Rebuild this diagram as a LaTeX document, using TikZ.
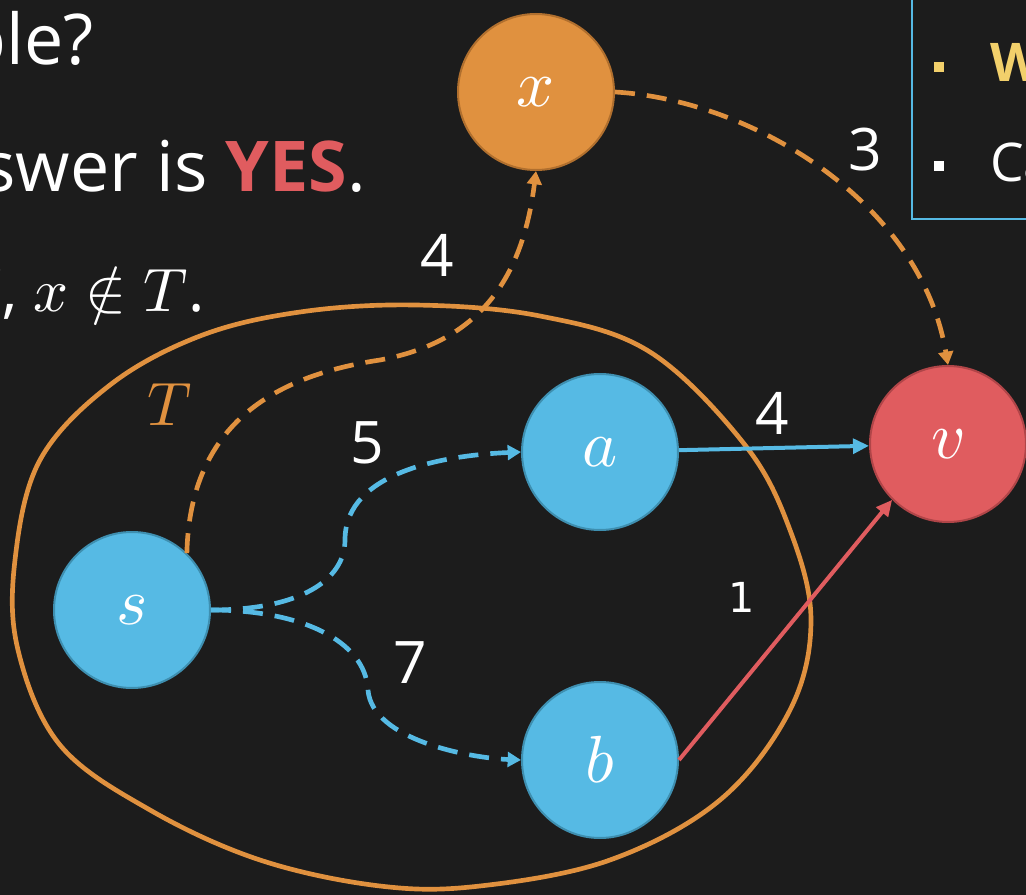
\documentclass[tikz,border=0pt]{standalone}
\usepackage{fontspec}
\usepackage{unicode-math}
\setmainfont{Open Sans}
\setmathfont{Latin Modern Math}
\newfontfamily\dejavu{DejaVu Sans}
\usetikzlibrary{arrows.meta}
\definecolor{bg}{HTML}{1C1C1C}
\definecolor{org}{HTML}{E0913F}
\definecolor{orgd}{HTML}{B06F2E}
\definecolor{blu}{HTML}{56BAE4}
\definecolor{blud}{HTML}{3E8FB0}
\definecolor{rd}{HTML}{E05C5F}
\definecolor{rdd}{HTML}{B04548}
\definecolor{yel}{HTML}{F2D06B}
\tikzset{
  vert/.style={circle, minimum size=117pt, inner sep=0pt, line width=1.5pt, text=white, font=\fontsize{50}{50}\selectfont},
  dedge/.style={line width=3.5pt, dash pattern=on 15pt off 9pt, -{Triangle[length=10pt,width=11pt]}},
  sedge/.style={line width=3pt, -{Triangle[length=12pt,width=11pt]}},
  elab/.style={text=white, font=\fontsize{44}{44}\selectfont, inner sep=0pt},
  bigtxt/.style={text=white, font=\fontsize{52.5}{52.5}\selectfont, inner sep=0pt},
}
\begin{document}
\begin{tikzpicture}[x=0.75pt,y=-0.75pt]
\fill[bg] (0,0) rectangle (1026,895);
\useasboundingbox (0,0) rectangle (1026,895);
% text at left
\node[bigtxt, anchor=base east] (l1) at (94,65) {ble?};
\node[bigtxt, anchor=base east] (l2) at (366,192) {swer is \textbf{\textcolor{rd}{YES}}.};
\node[bigtxt, anchor=base east, font=\fontsize{46}{46}\selectfont] (l3) at (205,312) {$V$, $x \notin T$.};
% top-right box
\draw[blu, line width=1.5pt] (912,-10) rectangle (1040,219);
\fill[yel] (934,62) rectangle (944,72);
\fill[white] (934,161) rectangle (944,171);
\node[anchor=base west, inner sep=0pt, text=yel, font=\fontsize{40}{40}\selectfont\bfseries] (w) at (990,82) {W};
\node[anchor=base west, inner sep=0pt, text=white, font=\fontsize{40}{40}\selectfont] (ca) at (990,182) {Ca};
% set T
\draw[org, line width=3.5pt] plot[smooth cycle, tension=0.6] coordinates {
 (415,305) (540,316) (650,352) (745,445) (790,530) (811,620) (790,710) (720,800) (610,860) (480,886) (380,886) (260,860) (150,810) (60,745) (18,650) (15,560) (40,460) (110,385) (200,336) (300,312)};
\node[text=org, font=\fontsize{46}{46}\selectfont, inner sep=0pt] (T) at (170,405) {$T$};
% vertices
\node[vert, fill=org, draw=orgd] (x) at (536,92) {$x$};
\node[vert, fill=blu, draw=blud] (s) at (132,610) {$s$};
\node[vert, fill=blu, draw=blud] (a) at (600,452) {$a$};
\node[vert, fill=blu, draw=blud] (b) at (600,760) {$b$};
\node[vert, fill=rd, draw=rdd] (v) at (948,444) {$v$};
% edges
\draw[dedge, org] (s.46) .. controls (190,420) and (280,375) .. (380,360) .. controls (460,345) and (520,300) .. (x.south);
\draw[dedge, org] (x.east) .. controls (750,100) and (920,200) .. (v.north);
\draw[dedge, blu] (s.east) .. controls (300,610) and (345,580) .. (345,540) .. controls (345,470) and (450,455) .. (a.west);
\draw[dedge, blu] (s.east) .. controls (300,610) and (365,640) .. (368,690) .. controls (372,740) and (470,758) .. (b.west);
\draw[sedge, blu] (a) -- (v);
\draw[line width=3pt, rd, -{Triangle[length=12pt,width=11pt]}] (b.east) -- (v.south west);
% edge labels
\node[elab] (w1) at (437,255) {4};
\node[elab] (w2) at (865,150) {3};
\node[elab] (w3) at (367,443) {5};
\node[elab] (w4) at (410,663) {7};
\node[elab] (w5) at (772,413) {4};
\node[elab, font=\fontsize{31}{31}\selectfont\dejavu] (w6) at (742,597) {1};
\end{tikzpicture}
\end{document}
